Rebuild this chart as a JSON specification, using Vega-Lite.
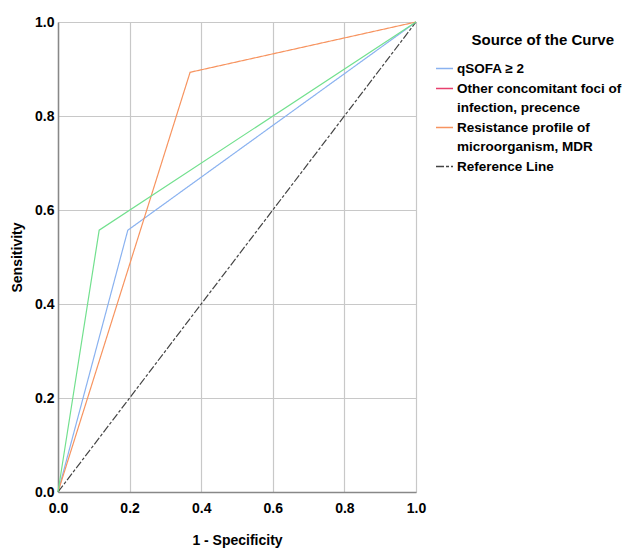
{
  "$schema": "https://vega.github.io/schema/vega-lite/v6.json",
  "width": 358,
  "height": 470,
  "autosize": "none",
  "padding": {"left": 58, "top": 22, "right": 207, "bottom": 58},
  "background": "white",
  "config": {
    "view": {"stroke": null},
    "font": "Liberation Sans"
  },
  "data": {
    "values": [
      {"curve": "qSOFA ≥ 2", "fpr": 0, "tpr": 0},
      {"curve": "qSOFA ≥ 2", "fpr": 0.195, "tpr": 0.557},
      {"curve": "qSOFA ≥ 2", "fpr": 1, "tpr": 1},
      {"curve": "Other concomitant foci of|infection, precence", "fpr": 0, "tpr": 0},
      {"curve": "Other concomitant foci of|infection, precence", "fpr": 0.115, "tpr": 0.557},
      {"curve": "Other concomitant foci of|infection, precence", "fpr": 1, "tpr": 1},
      {"curve": "Resistance profile of|microorganism, MDR", "fpr": 0, "tpr": 0},
      {"curve": "Resistance profile of|microorganism, MDR", "fpr": 0.369, "tpr": 0.893},
      {"curve": "Resistance profile of|microorganism, MDR", "fpr": 1, "tpr": 1},
      {"curve": "Reference Line", "fpr": 0, "tpr": 0},
      {"curve": "Reference Line", "fpr": 1, "tpr": 1}
    ]
  },
  "encoding": {
    "x": {
      "field": "fpr", "type": "quantitative",
      "scale": {"domain": [0, 1], "nice": false},
      "axis": {
        "title": "1 - Specificity", "values": [0, 0.2, 0.4, 0.6, 0.8, 1.0],
        "format": ".1f", "labelFontWeight": "bold", "labelFontSize": 14,
        "labelColor": "black", "titleFontSize": 14, "titleFontWeight": "bold", "titleColor": "black",
        "titlePadding": 18, "grid": true, "gridColor": "#c8c8c8", "gridWidth": 1.2,
        "domainColor": "#888888", "domainWidth": 1.5, "ticks": false, "labelPadding": 9, "labelFlush": false
      }
    },
    "y": {
      "field": "tpr", "type": "quantitative",
      "scale": {"domain": [0, 1], "nice": false},
      "axis": {
        "title": "Sensitivity", "values": [0, 0.2, 0.4, 0.6, 0.8, 1.0],
        "format": ".1f", "labelFontWeight": "bold", "labelFontSize": 14,
        "labelColor": "black", "titleFontSize": 14, "titleFontWeight": "bold", "titleColor": "black",
        "titlePadding": 10, "grid": true, "gridColor": "#c8c8c8", "gridWidth": 1.2,
        "domainColor": "#888888", "domainWidth": 1.5, "ticks": false, "labelPadding": 4, "labelFlush": false
      }
    },
    "order": {"field": "fpr", "type": "quantitative"}
  },
  "layer": [
    {
      "transform": [{"filter": "datum.curve != 'Other concomitant foci of|infection, precence'"}],
      "mark": {"type": "line", "strokeWidth": 1.2},
      "encoding": {
        "color": {
          "field": "curve", "type": "nominal",
          "scale": {
            "domain": ["qSOFA ≥ 2", "Other concomitant foci of|infection, precence", "Resistance profile of|microorganism, MDR", "Reference Line"],
            "range": ["#8ab2f0", "#e8406e", "#f79460", "#444444"]
          },
          "legend": {
            "title": "Source of the Curve",
            "orient": "none", "legendX": 377, "legendY": 11,
            "titleFontSize": 15, "titleFontWeight": "bold", "titleColor": "black", "titleAnchor": "end",
            "titlePadding": 11,
            "labelFontSize": 13.5, "labelFontWeight": "bold", "labelColor": "black",
            "labelExpr": "split(datum.label, '|')", "labelLimit": 300, "labelOffset": 3,
            "symbolSize": 289, "symbolStrokeWidth": 1.5, "rowPadding": 4,
            "encode": {
              "labels": {"update": {"lineHeight": {"value": 19}}},
              "title": {"update": {"dx": {"value": -7}}}
            }
          }
        },
        "strokeDash": {
          "field": "curve", "type": "nominal",
          "scale": {
            "domain": ["qSOFA ≥ 2", "Other concomitant foci of|infection, precence", "Resistance profile of|microorganism, MDR", "Reference Line"],
            "range": [[1, 0], [1, 0], [1, 0], [8, 2, 3, 2]]
          },
          "legend": null
        }
      }
    },
    {
      "transform": [{"filter": "datum.curve == 'Other concomitant foci of|infection, precence'"}],
      "mark": {"type": "line", "strokeWidth": 1.2, "color": "#72e08e"}
    }
  ]
}
